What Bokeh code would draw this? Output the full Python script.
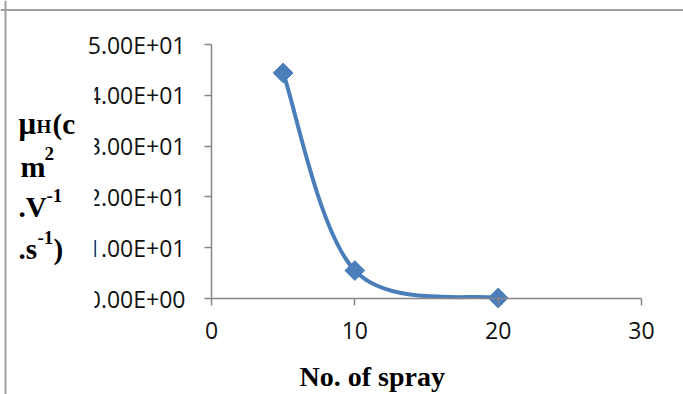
import numpy as np
from bokeh.plotting import figure
from bokeh.models import FixedTicker, Label, BoxAnnotation, Range1d, LinearAxis, Span
from bokeh.embed import file_html
from bokeh.resources import INLINE

# ---- data ----
sprays = [5, 10, 20]
mobility = [44.4, 5.5, 0.1]
x_ticks = [0, 10, 20, 30]
y_ticks = [0, 10, 20, 30, 40, 50]
y_tick_labels = ["0.00E+00", "1.00E+01", "2.00E+01", "3.00E+01", "4.00E+01", "5.00E+01"]
x_title = "No. of spray"

# ---- layout (page pixels) ----
PX0, PY0 = 0, 0            # canvas origin on the page (Bokeh template: body margin 0)
W, H = 683, 394            # canvas size
AX_L, AX_R = 211, 641      # page x of first / last x tick
AX_B, AX_T = 298, 44       # page y of first / last y tick
BLUE = "#4A7EBB"
AXIS = "#868686"

X_END, Y_END = x_ticks[-1], y_ticks[-1]
sx = (AX_R - AX_L) / X_END
sy = (AX_B - AX_T) / Y_END


def dx(px):
    return (px - AX_L) / sx


def dy(py):
    return (AX_B - py) / sy


p = figure(width=W, height=H,
           x_range=Range1d(dx(PX0), dx(PX0 + W)), y_range=Range1d(dy(PY0 + H), dy(PY0)),
           x_axis_type=None, y_axis_type=None,
           output_backend="svg", toolbar_location=None,
           min_border=0)
p.outline_line_color = None
p.background_fill_color = "white"
p.border_fill_color = "white"

xaxis = LinearAxis(fixed_location=0, bounds=(0, X_END), ticker=FixedTicker(ticks=x_ticks))
yaxis = LinearAxis(fixed_location=0, bounds=(0, Y_END), ticker=FixedTicker(ticks=y_ticks))
yaxis.major_label_overrides = {t: s for t, s in zip(y_ticks, y_tick_labels)}
for ax in (xaxis, yaxis):
    ax.axis_line_color = AXIS
    ax.axis_line_width = 1.5
    ax.major_tick_line_color = AXIS
    ax.major_tick_line_width = 1.5
    ax.major_tick_out = 7
    ax.major_tick_in = 0
    ax.minor_tick_line_color = None
    ax.major_label_text_font = "Open Sans"
    ax.major_label_text_font_size = "23px"
    ax.major_label_text_color = "#111111"
xaxis.major_label_standoff = 16
yaxis.major_label_standoff = 19
p.add_layout(xaxis, "below")
p.add_layout(yaxis, "left")

# chart-area border (top and left edges visible in the reference)
p.add_layout(Span(location=dx(5), dimension="height", line_color="#a0a0a0", line_width=2))
p.add_layout(Span(location=dy(9.5), dimension="width", line_color="#a0a0a0", line_width=2))

# ---- smoothed line (Excel-like Catmull-Rom bezier through the points) ----
n = len(sprays)
x0, y0, x1, y1, cx0, cy0, cx1, cy1 = [], [], [], [], [], [], [], []
for i in range(n - 1):
    a = max(i - 1, 0)
    b = min(i + 2, n - 1)
    x0.append(sprays[i]); y0.append(mobility[i])
    x1.append(sprays[i + 1]); y1.append(mobility[i + 1])
    cx0.append(sprays[i] + (sprays[i + 1] - sprays[a]) / 6)
    cy0.append(mobility[i] + (mobility[i + 1] - mobility[a]) / 6)
    cx1.append(sprays[i + 1] - (sprays[b] - sprays[i]) / 6)
    cy1.append(mobility[i + 1] - (mobility[b] - mobility[i]) / 6)
p.bezier(x0=x0, y0=y0, x1=x1, y1=y1, cx0=cx0, cy0=cy0, cx1=cx1, cy1=cy1,
         line_color=BLUE, line_width=4)
p.scatter(sprays, mobility, marker="square", size=14, angle=np.pi / 4,
          fill_color=BLUE, line_color=BLUE)

# white panel under the y title (hides the first character of the tick labels)
p.add_layout(BoxAnnotation(left=dx(8), right=dx(94), bottom=dy(312), top=dy(62),
                           fill_color="white", fill_alpha=1.0, line_color=None,
                           level="annotation"))

# ---- y title pieces ----
SERIF = "Liberation Serif"


def lab(text, px, py, size):
    p.add_layout(Label(x=dx(px), y=dy(py), text=text, text_font=SERIF,
                       text_font_style="bold", text_font_size=size,
                       text_color="black", text_baseline="alphabetic",
                       text_align="left"))


lab("\u03bc", 18, 123, "31px")
lab("H", 36, 126, "19px")
lab("(c", 52, 123, "29px")
lab("m", 20, 166, "30px")
lab("2", 44, 153, "19px")
lab(".V", 18, 206, "29px")
lab("-1", 46, 195, "19px")
lab(".s", 18, 248, "29px")
lab("-1", 37, 237, "19px")
lab(")", 53, 248, "29px")

# ---- x title ----
p.add_layout(Label(x=dx(299), y=dy(376), text=x_title, text_font=SERIF,
                   text_font_style="bold", text_font_size="28px",
                   text_color="black", text_baseline="alphabetic", text_align="left"))

open("out.html", "w").write(file_html(p, INLINE))
